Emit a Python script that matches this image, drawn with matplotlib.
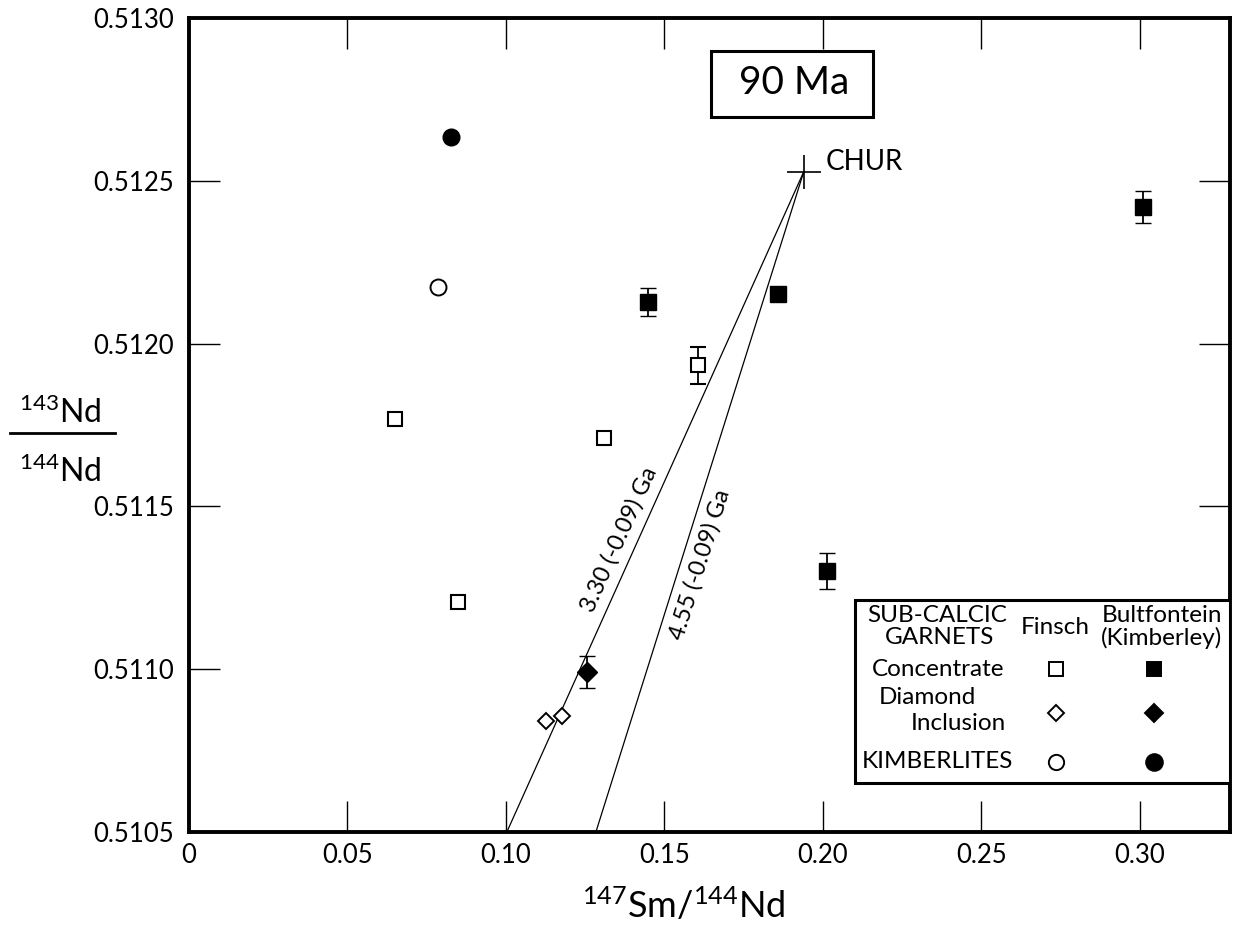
import numpy as np
import matplotlib
matplotlib.use("Agg")
import matplotlib.pyplot as plt
from matplotlib.patches import Rectangle
from matplotlib.lines import Line2D

plt.rcParams['font.family'] = ['Lato', 'DejaVu Sans']
plt.rcParams['mathtext.fontset'] = 'custom'
plt.rcParams['mathtext.rm'] = 'Lato'
plt.rcParams['mathtext.it'] = 'Lato:italic'
plt.rcParams['mathtext.bf'] = 'Lato:bold'

# ---- data: 147Sm/144Nd vs 143Nd/144Nd ----
# Finsch sub-calcic garnet concentrates (open squares)
finsch_conc_x = [0.0650, 0.0849, 0.1309, 0.1606]
finsch_conc_y = [0.511767, 0.511206, 0.511709, 0.511933]
finsch_conc_err = [0.0, 0.0, 0.0, 0.000058]

# Bultfontein (Kimberley) garnet concentrates (filled squares)
bult_conc_x = [0.1448, 0.1858, 0.2013, 0.3009]
bult_conc_y = [0.512129, 0.512153, 0.511301, 0.512420]
bult_conc_err = [0.000043, 0.0, 0.000055, 0.000049]

# Diamond inclusions
finsch_incl_x = [0.1126, 0.1177]
finsch_incl_y = [0.510840, 0.510856]
bult_incl_x = [0.1256]
bult_incl_y = [0.510991]
bult_incl_err = [0.000049]

# Kimberlites
finsch_kimb_x = [0.0785]
finsch_kimb_y = [0.512175]
bult_kimb_x = [0.0826]
bult_kimb_y = [0.512635]

# CHUR reference point and model-age lines ending at the x axis
chur_x, chur_y = 0.1940, 0.512528
model_end_x = [0.1003, 0.1284]
model_end_y = [0.5105, 0.5105]
model_labels = ["3.30 (-0.09) Ga", "4.55 (-0.09) Ga"]

x_ticks = [0, 0.05, 0.10, 0.15, 0.20, 0.25, 0.30]
x_ticklabels = ["0", "0.05", "0.10", "0.15", "0.20", "0.25", "0.30"]
y_ticks = [0.5105, 0.5110, 0.5115, 0.5120, 0.5125, 0.5130]
y_ticklabels = ["0.5105", "0.5110", "0.5115", "0.5120", "0.5125", "0.5130"]

W, H = 1239, 934
fig = plt.figure(figsize=(W / 100, H / 100), dpi=100)
ax_l, ax_r, ax_t, ax_b = 189, 1230, 18, 832
ax = fig.add_axes([ax_l / W, 1 - ax_b / H, (ax_r - ax_l) / W, (ax_b - ax_t) / H])
ax.set_xlim(0, 0.3285)
ax.set_ylim(0.5105, 0.5130)

for s in ax.spines.values():
    s.set_linewidth(2.8)

ax.set_xticks(x_ticks)
ax.set_xticklabels(x_ticklabels)
ax.set_yticks(y_ticks)
ax.set_yticklabels(y_ticklabels)
ax.tick_params(direction='in', length=22, width=1.0, labelsize=18.5,
               top=True, right=True)
ax.tick_params(axis='y', pad=11)
ax.tick_params(axis='x', pad=8)
# hide the ticks that sit on the corners
for t in ax.xaxis.get_major_ticks()[:1]:
    t.tick1line.set_visible(False)
    t.tick2line.set_visible(False)
for t in (ax.yaxis.get_major_ticks()[0], ax.yaxis.get_major_ticks()[-1]):
    t.tick1line.set_visible(False)
    t.tick2line.set_visible(False)

# model-age lines from CHUR
for ex, ey in zip(model_end_x, model_end_y):
    ax.plot([ex, chur_x], [ey, chur_y], color='black', lw=0.9, zorder=2)

# CHUR
ax.plot([chur_x], [chur_y], marker='+', ms=25, mew=1.2, color='black', zorder=3)
ax.text(chur_x + 0.0068, chur_y + 0.00003, "CHUR", fontsize=20, va='center', ha='left')

# labels along the model-age lines
fig.canvas.draw()
def line_angle(x0, y0, x1, y1):
    p0 = ax.transData.transform((x0, y0))
    p1 = ax.transData.transform((x1, y1))
    return np.degrees(np.arctan2(p1[1] - p0[1], p1[0] - p0[0]))

label_pos = [(0.1355, 0.511399), (0.1612, 0.511322)]
for (ex, ey), lab, (lx, ly) in zip(zip(model_end_x, model_end_y), model_labels, label_pos):
    ang = line_angle(ex, ey, chur_x, chur_y)
    ax.text(lx, ly, lab, fontsize=17, rotation=ang, rotation_mode='anchor',
            ha='center', va='center')

ebkw = dict(ecolor='black', elinewidth=1.3, capsize=6, capthick=1.5, ls='none', zorder=4)

# Finsch concentrates
ax.errorbar(finsch_conc_x, finsch_conc_y, yerr=finsch_conc_err, fmt='s', ms=10,
            mfc='white', mec='black', mew=1.5, **ebkw)
# Bultfontein concentrates
ax.errorbar(bult_conc_x, bult_conc_y, yerr=bult_conc_err, fmt='s', ms=11,
            mfc='black', mec='black', mew=1.0, **ebkw)
# diamond inclusions
ax.plot(finsch_incl_x, finsch_incl_y, ls='none', marker='D', ms=8.5,
        mfc='white', mec='black', mew=1.4, zorder=4)
ax.errorbar(bult_incl_x, bult_incl_y, yerr=bult_incl_err, fmt='D', ms=10,
            mfc='black', mec='black', mew=1.0, **ebkw)
# kimberlites
ax.plot(finsch_kimb_x, finsch_kimb_y, ls='none', marker='o', ms=11.5,
        mfc='white', mec='black', mew=1.4, zorder=4)
ax.plot(bult_kimb_x, bult_kimb_y, ls='none', marker='o', ms=12,
        mfc='black', mec='black', mew=1.0, zorder=4)

# "90 Ma" box
ax.text((794 - ax_l) / (ax_r - ax_l), (ax_b - 83) / (ax_b - ax_t), "90 Ma",
        transform=ax.transAxes, fontsize=28, ha='center', va='center')
ax.add_patch(Rectangle(((711 - ax_l) / (ax_r - ax_l), (ax_b - 117) / (ax_b - ax_t)),
                       (873 - 711) / (ax_r - ax_l), (117 - 51) / (ax_b - ax_t),
                       transform=ax.transAxes, fill=False, lw=2.2, ec='black', zorder=5))

# key box in the lower right
def afx(px):
    return (px - ax_l) / (ax_r - ax_l)

def afy(py):
    return (ax_b - py) / (ax_b - ax_t)

ax.add_patch(Rectangle((afx(855), afy(783)), 1 - afx(855), afy(600) - afy(783),
                       transform=ax.transAxes, fill=True, fc='white', lw=2.2,
                       ec='black', zorder=5))
key_fs = 17.5
key_texts = [
    (937, 615, "SUB-CALCIC", 'center'),
    (940, 638, "GARNETS", 'center'),
    (1055, 628, "Finsch", 'center'),
    (1162, 615, "Bultfontein", 'center'),
    (1162, 638, "(Kimberley)", 'center'),
    (938, 669, "Concentrate", 'center'),
    (927, 698, "Diamond", 'center'),
    (958, 723, "Inclusion", 'center'),
    (937, 762, "KIMBERLITES", 'center'),
]
for px, py, s, ha in key_texts:
    ax.text(afx(px), afy(py), s, transform=ax.transAxes, fontsize=key_fs,
            ha=ha, va='center', zorder=6)

key_markers = [
    (1056, 669, 's', 'white', 9.5), (1154, 669, 's', 'black', 10),
    (1056, 713, 'D', 'white', 8.5), (1154, 713, 'D', 'black', 9.5),
    (1056, 762, 'o', 'white', 11), (1154, 762, 'o', 'black', 12),
]
for px, py, m, fc, ms in key_markers:
    ax.plot([afx(px)], [afy(py)], transform=ax.transAxes, marker=m, ms=ms,
            mfc=fc, mec='black', mew=1.4, ls='none', zorder=6, clip_on=False)

# axis titles
fig.text(684 / W, 1 - 918 / H, r"$^{147}$Sm/$^{144}$Nd", fontsize=26,
         ha='center', va='baseline')
fig.text(60 / W, 1 - 423 / H, r"$^{143}$Nd", fontsize=23, ha='center', va='baseline')
fig.text(60 / W, 1 - 482 / H, r"$^{144}$Nd", fontsize=23, ha='center', va='baseline')
fig.add_artist(Line2D([10 / W, 115 / W], [1 - 433 / H, 1 - 433 / H],
                      transform=fig.transFigure, color='black', lw=2.0))

fig.savefig("out.png", dpi=100)
